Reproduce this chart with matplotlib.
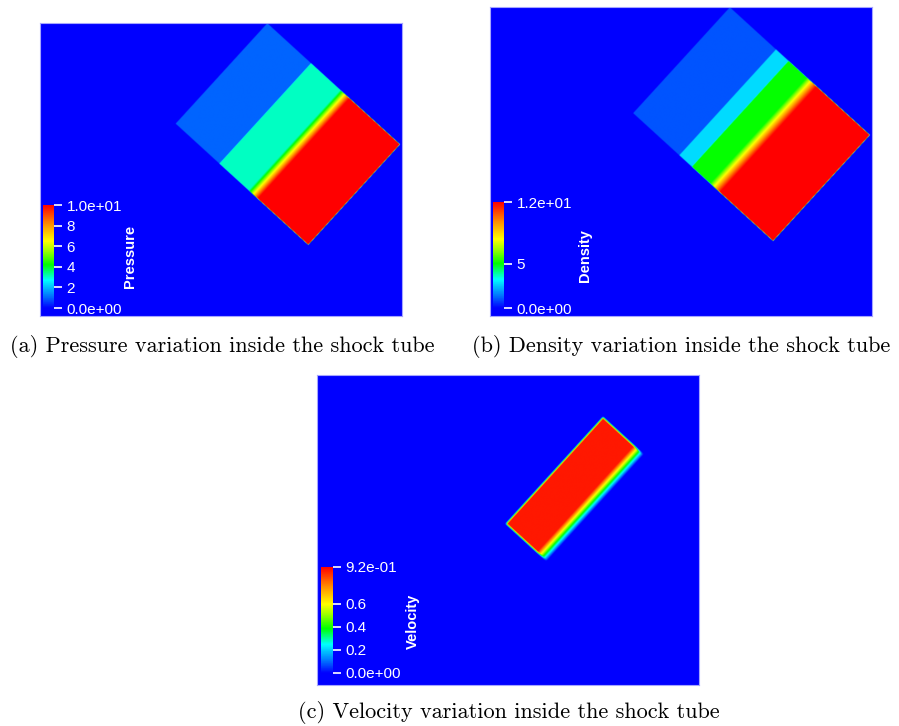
import numpy as np
import matplotlib
matplotlib.use("Agg")
import matplotlib.pyplot as plt
from matplotlib.colors import LinearSegmentedColormap

view_w, view_h = 2.014, 1.629
tube_corner = (1.265, 1.629)     # upper corner of the tube
tube_angle = -42.4               # direction of the tube axis, degrees
tube_len, tube_wid = 1.0, 0.757

# wave positions along the tube (fraction of its length)
x_shock = 0.33
x_contact = 0.42
x_tail = 0.55
x_head = 0.62

# states: [ahead of shock, behind shock, behind contact, undisturbed high side]
pressure = [1.0, 3.05, 3.05, 10.0]
density = [1.0, 2.8, 5.1, 12.0]
velocity = [0.0, 0.89, 0.89, 0.0]

p_ticks = [0, 2, 4, 6, 8, 10]
p_labels = ["0.0e+00", "2", "4", "6", "8", "1.0e+01"]
rho_ticks = [0, 5, 12]
rho_labels = ["0.0e+00", "5", "1.2e+01"]
u_ticks = [0, 0.2, 0.4, 0.6, 0.92]
u_labels = ["0.0e+00", "0.2", "0.4", "0.6", "9.2e-01"]

captions = [
    "(a) Pressure variation inside the shock tube",
    "(b) Density variation inside the shock tube",
    "(c) Velocity variation inside the shock tube",
]
field_names = ["Pressure", "Density", "Velocity"]

# rainbow map similar to the ParaView one
rainbow = LinearSegmentedColormap.from_list("pv_rainbow", [
    (0.00, (0.0, 0.0, 1.0)),
    (0.10, (0.0, 0.4, 1.0)),
    (0.20, (0.0, 0.75, 1.0)),
    (0.27, (0.0, 1.0, 1.0)),
    (0.33, (0.0, 1.0, 0.6)),
    (0.42, (0.0, 1.0, 0.0)),
    (0.55, (0.6, 1.0, 0.0)),
    (0.65, (1.0, 1.0, 0.0)),
    (0.80, (1.0, 0.6, 0.0)),
    (1.00, (1.0, 0.0, 0.0)),
])

W, H = 899, 726
nx, ny = 800, 647


def step(x, w):
    return np.clip(x / w + 0.5, 0.0, 1.0)


def tube_field(states, edge):
    xs = np.linspace(0, view_w, nx)
    ys = np.linspace(0, view_h, ny)
    X, Y = np.meshgrid(xs, ys)
    a = np.deg2rad(tube_angle)
    ux, uy = np.cos(a), np.sin(a)
    dx, dy = X - tube_corner[0], Y - tube_corner[1]
    s = dx * ux + dy * uy
    t = dx * uy - dy * ux
    f = (states[0]
         + (states[1] - states[0]) * step(s - x_shock, edge)
         + (states[2] - states[1]) * step(s - x_contact, edge)
         + (states[3] - states[2]) * np.clip((s - x_tail) / (x_head - x_tail), 0, 1))
    mask = (step(s, edge) * step(tube_len - s, edge)
            * step(t, edge) * step(tube_wid - t, edge))
    return f * mask


def px_rect(x0, y0, x1, y1):
    return [x0 / W, 1 - y1 / H, (x1 - x0) / W, (y1 - y0) / H]


fig = plt.figure(figsize=(W / 100, H / 100), dpi=100)

panels = [
    (pressure, p_ticks, p_labels, 0.004, px_rect(40, 23, 402, 316), px_rect(43, 205, 54, 308), (130, 256), (222, 346)),
    (density, rho_ticks, rho_labels, 0.004, px_rect(490, 7, 872, 316), px_rect(493, 202, 504, 308), (585, 256), (681, 346)),
    (velocity, u_ticks, u_labels, 0.012, px_rect(317, 375, 699, 685), px_rect(321, 567, 333, 673), (413, 621), (509, 713)),
]

for i, (states, ticks, labels, edge, rect, crect, lpos, cpos) in enumerate(panels):
    ax = fig.add_axes(rect)
    field = tube_field(states, edge)
    im = ax.imshow(field, origin="lower", extent=[0, view_w, 0, view_h],
                   cmap=rainbow, vmin=0, vmax=ticks[-1], aspect="auto",
                   interpolation="bilinear")
    ax.set_xticks([])
    ax.set_yticks([])
    for sp in ax.spines.values():
        sp.set_color((0.65, 0.65, 1.0))
        sp.set_linewidth(0.8)

    cax = fig.add_axes(crect)
    cb = fig.colorbar(im, cax=cax, ticks=ticks)
    cb.outline.set_visible(False)
    cb.ax.set_yticklabels(labels)
    cb.ax.tick_params(colors="white", direction="out", length=6, width=1.2,
                      pad=3, labelsize=11)
    for lab in cb.ax.get_yticklabels():
        lab.set_fontfamily("Liberation Sans")

    fig.text(lpos[0] / W, 1 - lpos[1] / H, field_names[i], rotation=90,
             ha="center", va="center", color="white", fontsize=10.5,
             fontweight="bold", family="Liberation Sans")
    fig.text(cpos[0] / W, 1 - cpos[1] / H, captions[i], ha="center",
             va="center", fontsize=16, family="cmr10")

fig.savefig("out.png", dpi=100)
